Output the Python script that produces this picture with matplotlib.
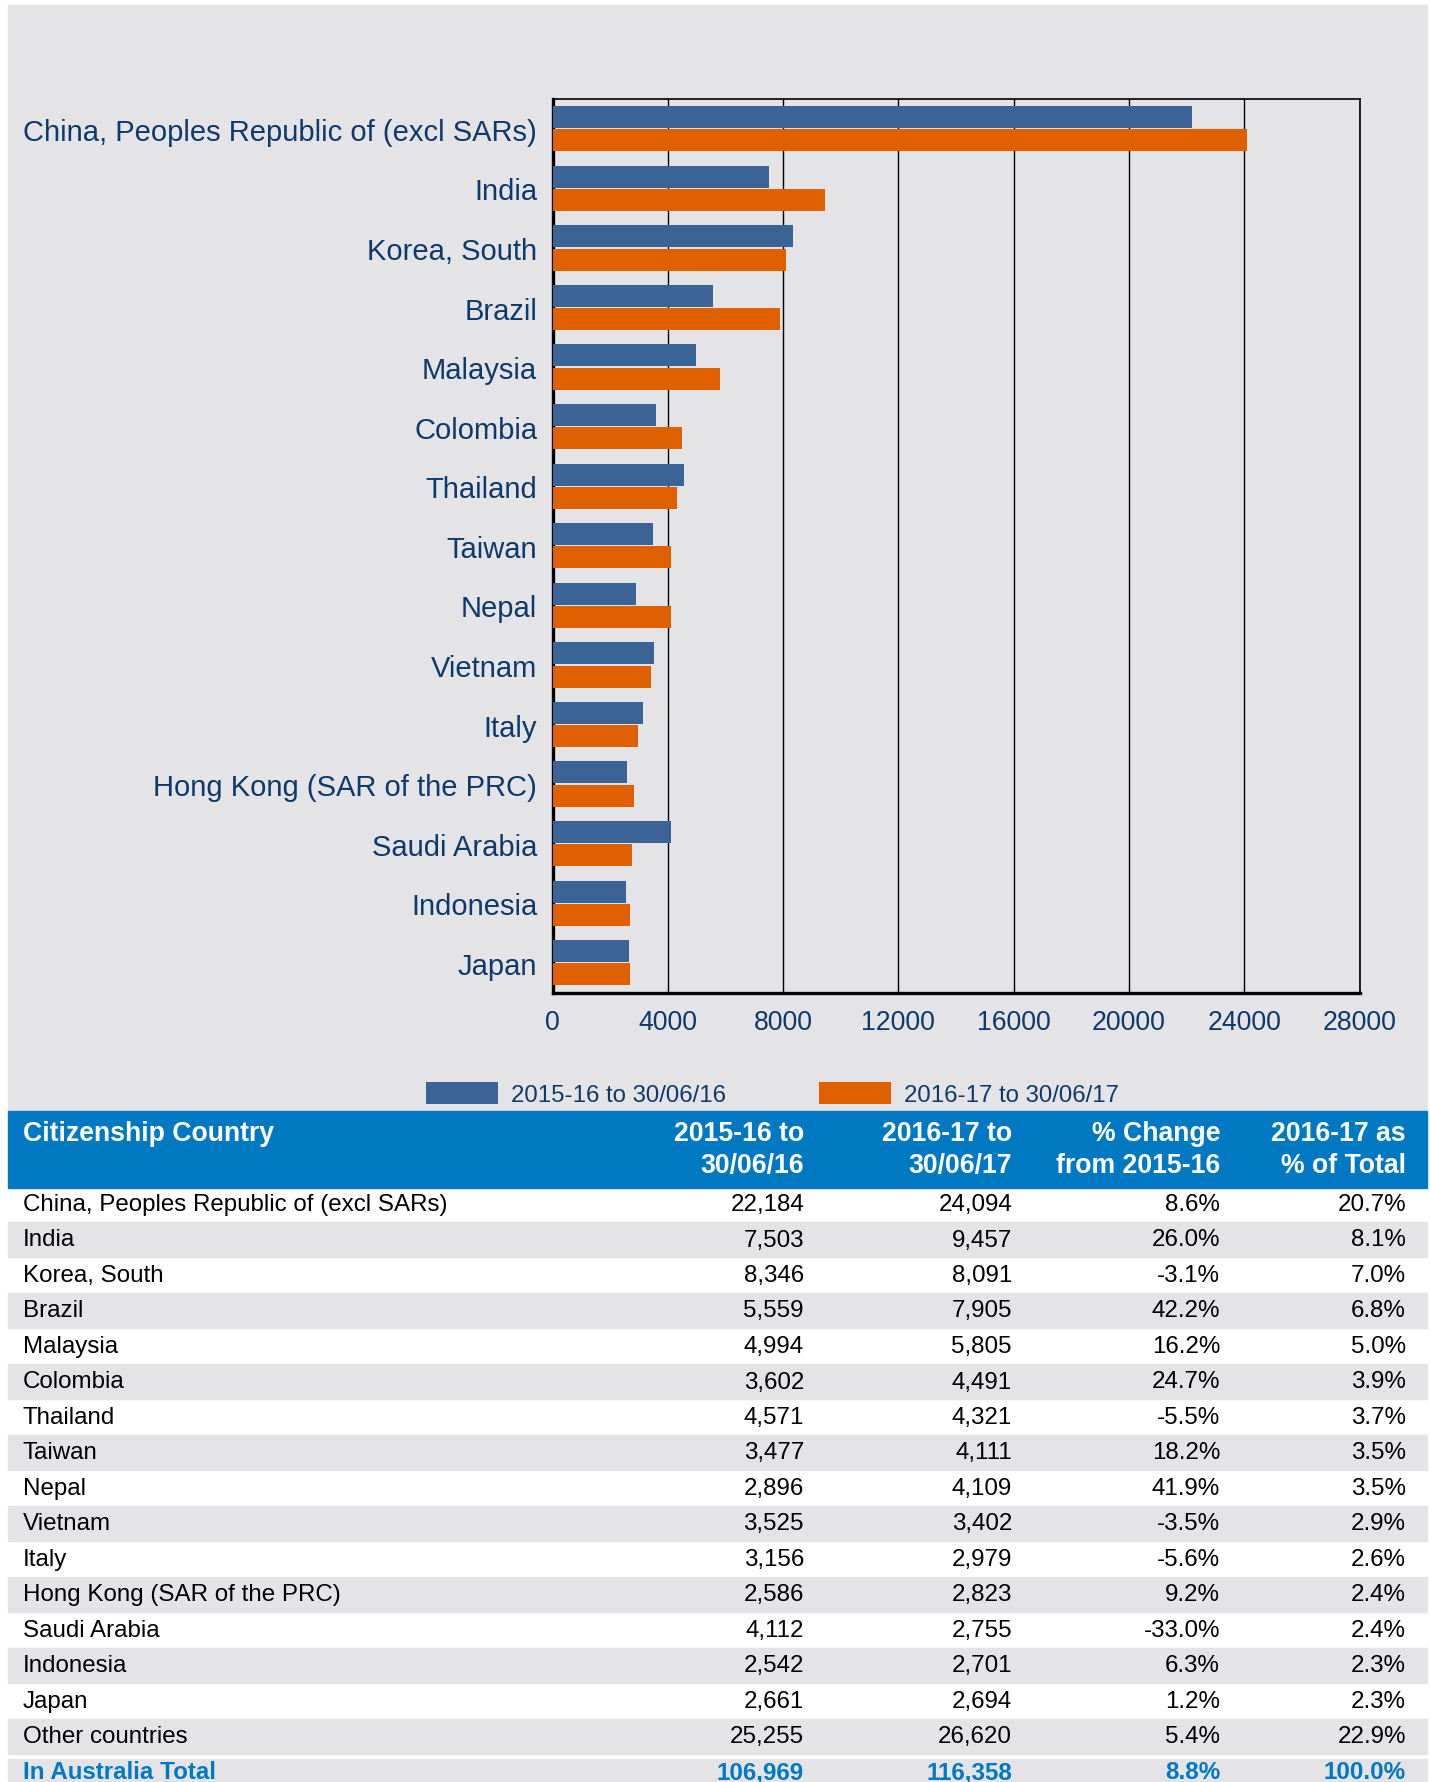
import matplotlib
matplotlib.use("Agg")
import matplotlib.pyplot as plt
from matplotlib.patches import Rectangle
import numpy as np

plt.rcParams['font.family'] = ['Liberation Sans', 'DejaVu Sans']

# data
countries = ['China, Peoples Republic of (excl SARs)', 'India', 'Korea, South', 'Brazil',
             'Malaysia', 'Colombia', 'Thailand', 'Taiwan', 'Nepal', 'Vietnam', 'Italy',
             'Hong Kong (SAR of the PRC)', 'Saudi Arabia', 'Indonesia', 'Japan', 'Other countries']
v1516 = [22184, 7503, 8346, 5559, 4994, 3602, 4571, 3477, 2896, 3525, 3156, 2586, 4112, 2542, 2661, 25255]
v1617 = [24094, 9457, 8091, 7905, 5805, 4491, 4321, 4111, 4109, 3402, 2979, 2823, 2755, 2701, 2694, 26620]
pct_change = ['8.6%', '26.0%', '-3.1%', '42.2%', '16.2%', '24.7%', '-5.5%', '18.2%', '41.9%',
              '-3.5%', '-5.6%', '9.2%', '-33.0%', '6.3%', '1.2%', '5.4%']
pct_total = ['20.7%', '8.1%', '7.0%', '6.8%', '5.0%', '3.9%', '3.7%', '3.5%', '3.5%',
             '2.9%', '2.6%', '2.4%', '2.4%', '2.3%', '2.3%', '22.9%']
total_row = ['In Australia Total', '106,969', '116,358', '8.8%', '100.0%']
headers = [['Citizenship Country', ''], ['2015-16 to', '30/06/16'], ['2016-17 to', '30/06/17'],
           ['% Change', 'from 2015-16'], ['2016-17 as', '% of Total']]
series_names = ['2015-16 to 30/06/16', '2016-17 to 30/06/17']
xticks = [0, 4000, 8000, 12000, 16000, 20000, 24000, 28000]

W, H = 1430, 1783
BLUE = '#3a6496'
ORANGE = '#e06000'
GRAY = '#e4e4e7'
HEAD = '#0079c2'
NAVY = '#0d3a6a'

fig = plt.figure(figsize=(W / 100, H / 100), dpi=100)

def fx(px):
    return px / W

def fy(py):
    return 1 - py / H

def band(y0, y1, color):
    # full-width rectangle between pixel rows y0 (top) and y1 (bottom), behind the axes
    fig.patches.append(Rectangle((fx(8), fy(y1)), fx(1427) - fx(8), fy(y0) - fy(y1),
                                 transform=fig.transFigure, color=color, zorder=-5))

# grey panel behind chart
band(6, 1112, GRAY)

ax = fig.add_axes([fx(552.5), fy(993.6), fx(1359.6) - fx(552.5), fy(100) - fy(993.6)])
ax.set_facecolor(GRAY)

n = 15
y = np.arange(n)
h = 0.37
ax.barh(y - 0.195, v1516[:n], height=h, color=BLUE, label=series_names[0], zorder=3)
ax.barh(y + 0.195, v1617[:n], height=h, color=ORANGE, label=series_names[1], zorder=3)

ax.set_ylim(n - 0.5, -0.5)
ax.set_xlim(0, 28000)
ax.set_xticks(xticks)
ax.set_xticklabels([str(t) for t in xticks])
ax.set_yticks(y)
ax.set_yticklabels(countries[:n])
ax.tick_params(axis='x', length=0, pad=12, labelsize=19.2, labelcolor=NAVY)
ax.tick_params(axis='y', length=0, pad=11, labelsize=21, labelcolor=NAVY)
ax.grid(axis='x', color='black', linewidth=1.0, zorder=1)
ax.set_axisbelow(True)
for s in ['left', 'bottom']:
    ax.spines[s].set_linewidth(2.4)
for s in ['top', 'right']:
    ax.spines[s].set_linewidth(1.2)

leg = ax.legend(loc='upper left', bbox_to_anchor=(fx(426), fy(1083)), bbox_transform=fig.transFigure,
                ncol=2, frameon=False, fontsize=17.3, handlelength=3.0, handleheight=1.0,
                handletextpad=0.55, columnspacing=3.85, borderpad=0, borderaxespad=0)
for t in leg.get_texts():
    t.set_color(NAVY)

# table header
band(1112, 1189, HEAD)
col_x = [23, 804, 1012, 1220, 1406]
for i, (l1, l2) in enumerate(headers):
    ha = 'left' if i == 0 else 'right'
    fig.text(fx(col_x[i]), fy(1134), l1, ha=ha, va='center', color='white',
             fontsize=19.2, fontweight='bold')
    if l2:
        fig.text(fx(col_x[i]), fy(1166), l2, ha=ha, va='center', color='white',
                 fontsize=19.2, fontweight='bold')

# table body
row_h = 35.5
c0 = 1205
for i in range(len(countries)):
    yc = c0 + i * row_h
    if i % 2 == 1:
        band(yc - row_h / 2, yc + row_h / 2, GRAY)
    vals = [countries[i], f'{v1516[i]:,}', f'{v1617[i]:,}', pct_change[i], pct_total[i]]
    for j, v in enumerate(vals):
        fig.text(fx(col_x[j]), fy(yc), v, ha='left' if j == 0 else 'right', va='center',
                 color='black', fontsize=17.4)

yc = c0 + len(countries) * row_h
band(yc - 13, H, GRAY)
for j, v in enumerate(total_row):
    fig.text(fx(col_x[j]), fy(yc), v, ha='left' if j == 0 else 'right', va='center',
             color=HEAD, fontsize=17.4, fontweight='bold')

fig.savefig('out.png', dpi=100, facecolor='white')
